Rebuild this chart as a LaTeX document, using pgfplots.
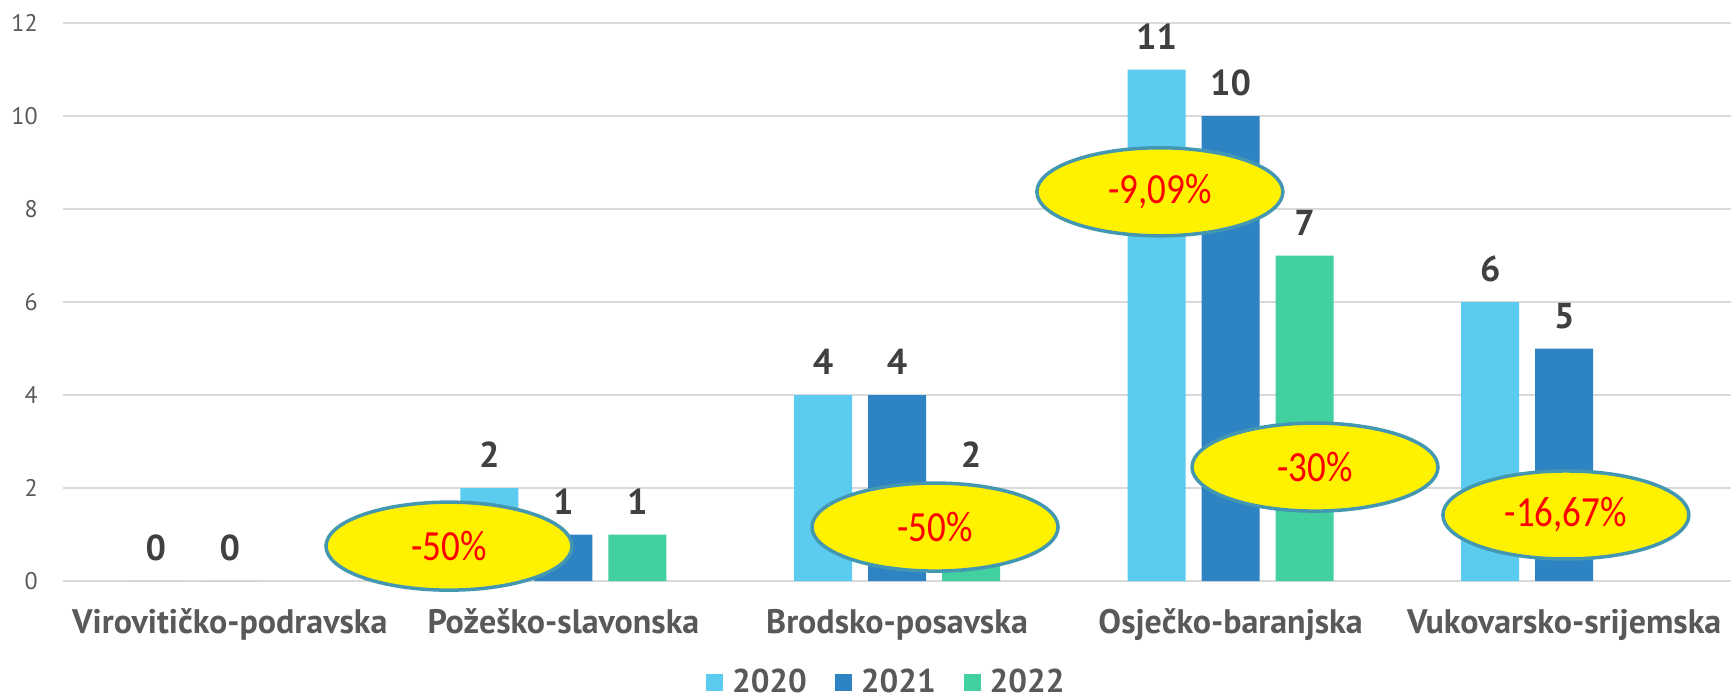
\documentclass[border=0pt]{standalone}
\usepackage{fontspec}
\setmainfont{PT Sans}
\newfontfamily\ellfont[FakeStretch=0.86]{Carlito}
\usepackage{pgfplots}
\pgfplotsset{compat=1.18}
\usetikzlibrary{shapes.geometric}
\definecolor{cA}{HTML}{5BCBEF}
\definecolor{cB}{HTML}{2E83C3}
\definecolor{cC}{HTML}{43D0A0}
\definecolor{txt}{HTML}{595959}
\definecolor{lab}{HTML}{404040}
\definecolor{grd}{HTML}{D9D9D9}
\definecolor{ellb}{HTML}{4497B1}
\pgfplotsset{ybar legend/.style={/pgfplots/legend image code/.code={\fill[##1] (0pt,-4.25pt) rectangle (8.5pt,4.25pt);}}}
\tikzset{pct/.style={ellipse, draw=ellb, line width=1.75pt, fill=yellow, minimum width=123pt, minimum height=44pt, inner sep=0pt, text=red, font=\ellfont\fontsize{21.5}{24}\selectfont}}
\begin{document}
\begin{tikzpicture}
\useasboundingbox (-31.5pt,-58.5pt) rectangle (835.5pt,290.5pt);
\begin{axis}[
  at={(0pt,0pt)}, anchor=south west,
  scale only axis, width=834pt, height=279pt,
  xmin=-0.5, xmax=4.5, ymin=0, ymax=12,
  ybar=8pt, bar width=29pt,
  axis line style={draw=none},
  major tick length=0pt,
  ymajorgrids, grid style={grd, line width=0.75pt},
  ytick={0,2,4,6,8,10,12},
  xtick={0,1,2,3,4},
  xticklabels={Virovitičko-podravska, Požeško-slavonska, Brodsko-posavska, Osječko-baranjska, Vukovarsko-srijemska},
  /pgf/number format/assume math mode=true,
  yticklabel style={font=\fontsize{12}{14}\selectfont, text=txt, anchor=east, inner sep=0pt, xshift=-12.5pt},
  xticklabel style={font=\fontsize{17}{20}\selectfont\bfseries, text=txt, anchor=north, inner sep=0pt, text height=12pt, yshift=-14pt},
  nodes near coords,
  nodes near coords style={font=\fontsize{18}{21}\selectfont\bfseries, text=lab, anchor=south, inner sep=0pt, text depth=0pt, yshift=10pt},
  legend columns=3,
  legend style={at={(0.493,-0.181)}, anchor=center, draw=none, fill=none, inner sep=0pt,
    font=\fontsize{16.5}{19}\selectfont\bfseries, text=txt,
    nodes={inner sep=0pt},
    /tikz/every odd column/.append style={column sep=4.5pt},
    /tikz/every even column/.append style={column sep=14pt}},
  clip=false,
]
\addplot[fill=cA, draw=none] coordinates {(0,0) (1,2) (2,4) (3,11) (4,6)};
\addlegendentry{2020}
\addplot[fill=cB, draw=none] coordinates {(0,0) (1,1) (2,4) (3,10) (4,5)};
\addlegendentry{2021}
\addplot[fill=cC, draw=none] coordinates {(1,1) (2,2) (3,7)};
\addlegendentry{2022}
\node[pct] at (axis cs:0.657,0.75) {-50\%};
\node[pct] at (axis cs:2.114,1.16) {-50\%};
\node[pct] at (axis cs:2.788,8.37) {-9,09\%};
\node[pct] at (axis cs:3.253,2.45) {-30\%};
\node[pct] at (axis cs:4.005,1.42) {-16,67\%};
\end{axis}
\end{tikzpicture}
\end{document}
